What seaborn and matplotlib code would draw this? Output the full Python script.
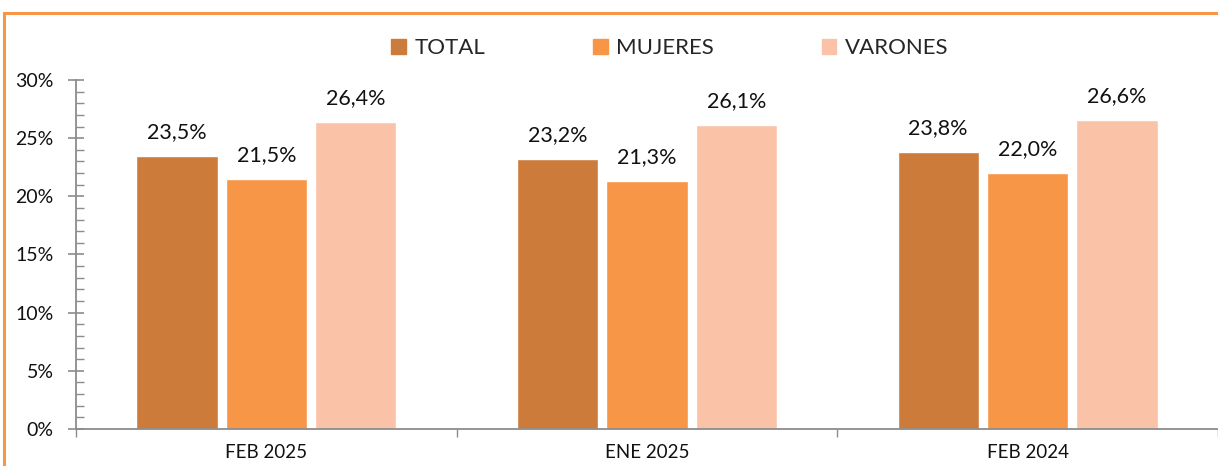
import matplotlib
matplotlib.use("Agg")
import matplotlib.pyplot as plt
import seaborn as sns
import pandas as pd
from matplotlib.patches import Rectangle
from matplotlib.ticker import MultipleLocator, FuncFormatter

periods = ["FEB 2025", "ENE 2025", "FEB 2024"]
series = ["TOTAL", "MUJERES", "VARONES"]
total = [23.5, 23.2, 23.8]
mujeres = [21.5, 21.3, 22.0]
varones = [26.4, 26.1, 26.6]
colors = ["#CD7B3A", "#F79646", "#FAC3A8"]

rows = []
for s, vals in zip(series, [total, mujeres, varones]):
    for p, v in zip(periods, vals):
        rows.append({"periodo": p, "serie": s, "valor": v})
df = pd.DataFrame(rows)

sns.set_theme(style="white")
plt.rcParams["font.family"] = ["Lato", "DejaVu Sans"]

fig = plt.figure(figsize=(12.18, 4.66), dpi=100)
ax = fig.add_axes([76/1218, 1-429/466, 1-76/1218, (429-80)/466])

sns.barplot(data=df, x="periodo", y="valor", hue="serie", order=periods,
            hue_order=series, palette=colors, width=0.705, gap=0.09,
            saturation=1, ax=ax, legend=False)

for cont in ax.containers:
    ax.bar_label(cont, labels=[f"{v:.1f}%".replace(".", ",") for v in cont.datavalues],
                 padding=10, fontsize=15.5, color="#111111")

ax.set_ylim(0, 30)
ax.set_xlim(-0.5, 2.5)
ax.yaxis.set_major_locator(MultipleLocator(5))
ax.yaxis.set_minor_locator(MultipleLocator(1))
ax.yaxis.set_major_formatter(FuncFormatter(lambda v, p: f"{v:.0f}%"))
ax.set_xlabel("")
ax.set_ylabel("")
for side in ["top", "right"]:
    ax.spines[side].set_visible(False)
for side in ["left", "bottom"]:
    ax.spines[side].set_color("#8c8c8c")
    ax.spines[side].set_linewidth(1.3)
ax.tick_params(axis="y", which="major", direction="inout", length=12, width=1.2,
               color="#8c8c8c", labelsize=14, pad=10, left=True)
ax.tick_params(axis="y", which="minor", direction="in", length=6, width=1.0,
               color="#8c8c8c", left=True)
ax.tick_params(axis="x", which="major", length=0, labelsize=13.5, pad=11)
ax.set_xticks([-0.5, 0.5, 1.5, 2.5], minor=True)
ax.tick_params(axis="x", which="minor", direction="out", length=6, width=1.0,
               color="#8c8c8c", bottom=True)
for lbl in ax.get_yticklabels() + ax.get_xticklabels():
    lbl.set_color("#111111")

handles = [Rectangle((0, 0), 1, 1, color=c) for c in colors]
fig.legend(handles, series, loc="center", bbox_to_anchor=(670/1218, 1-48/466),
           ncol=3, frameon=False, fontsize=16, handlelength=0.65, handleheight=0.65,
           columnspacing=4.85, handletextpad=0.4)

fig.patches.append(Rectangle((4/1218, -0.1), 1.1, 1-13/466+0.1,
                             transform=fig.transFigure, fill=False,
                             edgecolor="#F79646", linewidth=2.2))

fig.savefig("out.png", dpi=100)
